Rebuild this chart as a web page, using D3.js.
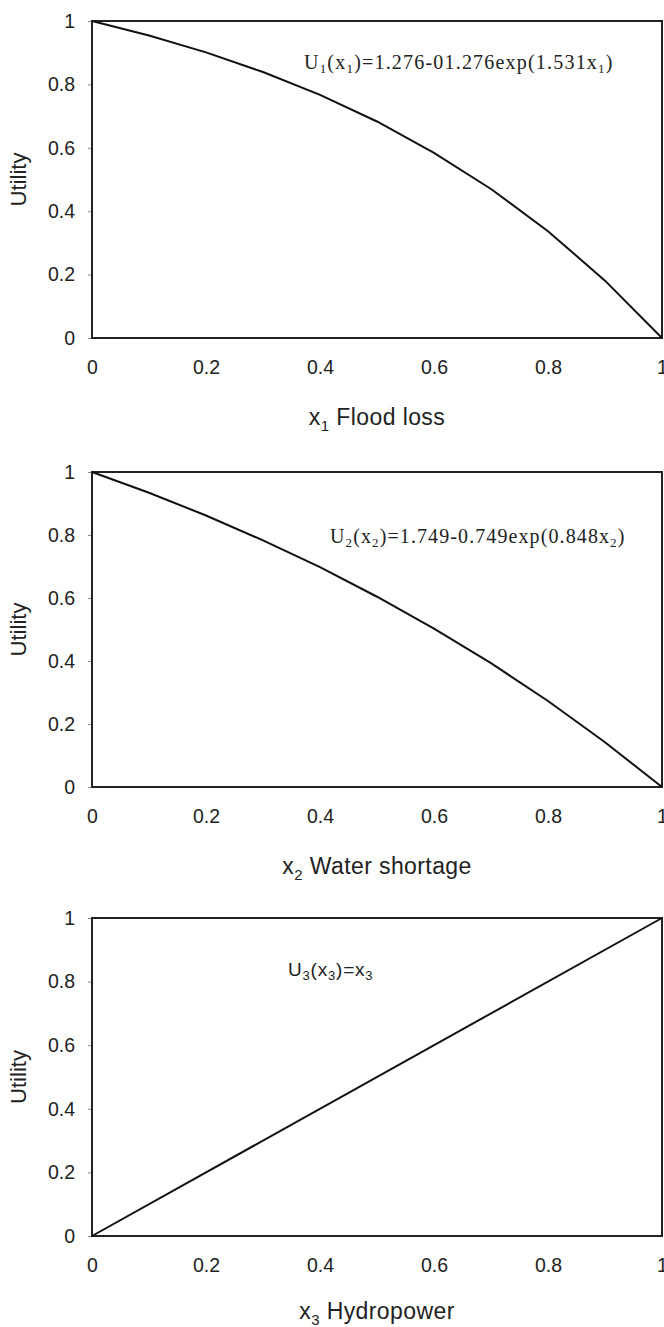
<!DOCTYPE html>
<html>
<head>
<meta charset="utf-8">
<script src="https://cdn.jsdelivr.net/npm/d3@7"></script>
<style>
  body { margin: 0; background: #fff; }
  svg { display: block; }
</style>
</head>
<body>
<svg id="chart"></svg>
<script>
// values
const xTicks = [0, 0.2, 0.4, 0.6, 0.8, 1];
const yTicks = [0, 0.2, 0.4, 0.6, 0.8, 1];

const floodX = [0, 0.1, 0.2, 0.3, 0.4, 0.5, 0.6, 0.7, 0.8, 0.9, 1];
const floodU = [1, 0.954, 0.901, 0.839, 0.767, 0.683, 0.584, 0.47, 0.337, 0.181, 0];

const waterX = [0, 0.1, 0.2, 0.3, 0.4, 0.5, 0.6, 0.7, 0.8, 0.9, 1];
const waterU = [1, 0.934, 0.862, 0.783, 0.698, 0.604, 0.503, 0.393, 0.273, 0.142, 0];

const hydroX = [0, 1];
const hydroU = [0, 1];

const width = 664, height = 1327;
const left = 92, right = 662;
const sans = "Liberation Sans, Arial, sans-serif";
const serif = "Liberation Serif, Times New Roman, serif";

const svg = d3.select("#chart")
	.attr("width", width)
	.attr("height", height);

const panels = [
	{top: 21, bottom: 338, titleGap: 87, xs: floodX, us: floodU, sub: "1", name: " Flood loss",
		eq: {x: 304, y: 69, serif: true, spacing: 1.2, parts: [["U"], ["1", "sub"], ["(x"], ["1", "sub"], [")=1.276-01.276exp(1.531x"], ["1", "sub"], [")"]]}},
	{top: 472, bottom: 787, titleGap: 87, xs: waterX, us: waterU, sub: "2", name: " Water shortage",
		eq: {x: 330, y: 543, serif: true, spacing: 1.1, parts: [["U"], ["2", "sub"], ["(x"], ["2", "sub"], [")=1.749-0.749exp(0.848x"], ["2", "sub"], [")"]]}},
	{top: 918, bottom: 1236, titleGap: 83, xs: hydroX, us: hydroU, sub: "3", name: " Hydropower",
		eq: {x: 288, y: 976, serif: false, spacing: 0.8, parts: [["U"], ["3", "sub"], ["(x"], ["3", "sub"], [")=x"], ["3", "sub"]]}}
];

panels.forEach(function(p) {
	const x = d3.scaleLinear().domain([0, 1]).range([left, right]);
	const y = d3.scaleLinear().domain([0, 1]).range([p.bottom, p.top]);
	const g = svg.append("g");

	// y axis
	const yAxis = g.append("g")
		.attr("transform", "translate(" + left + ",0)")
		.call(d3.axisLeft(y).tickValues(yTicks).tickSize(4).tickPadding(13)
			.tickFormat(d3.format("~g")));
	yAxis.select(".domain").remove();
	yAxis.selectAll("line").attr("stroke", "#888");
	yAxis.selectAll("text")
		.attr("font-family", sans)
		.attr("font-size", 19.5)
		.attr("fill", "#222");

	// x axis
	const xAxis = g.append("g")
		.attr("transform", "translate(0," + p.bottom + ")")
		.call(d3.axisBottom(x).tickValues(xTicks).tickSize(0).tickPadding(22)
			.tickFormat(d3.format("~g")));
	xAxis.select(".domain").remove();
	xAxis.selectAll("text")
		.attr("font-family", sans)
		.attr("font-size", 19.5)
		.attr("fill", "#222");

	// frame
	g.append("rect")
		.attr("x", left)
		.attr("y", p.top)
		.attr("width", right - left)
		.attr("height", p.bottom - p.top)
		.attr("fill", "none")
		.attr("stroke", "#222")
		.attr("stroke-width", 2);

	// curve
	const pts = p.xs.map(function(v, i) { return [v, p.us[i]]; });
	g.append("path")
		.datum(pts)
		.attr("fill", "none")
		.attr("stroke", "#111")
		.attr("stroke-width", 2)
		.attr("d", d3.line().x(function(d) { return x(d[0]); }).y(function(d) { return y(d[1]); }));

	// y label
	g.append("text")
		.attr("transform", "translate(26," + ((p.top + p.bottom) / 2) + ") rotate(-90)")
		.attr("text-anchor", "middle")
		.attr("font-family", sans)
		.attr("font-size", 22)
		.attr("fill", "#222")
		.text("Utility");

	// x title
	const t = g.append("text")
		.attr("x", (left + right) / 2)
		.attr("y", p.bottom + p.titleGap)
		.attr("text-anchor", "middle")
		.attr("font-family", sans)
		.attr("font-size", 23)
		.attr("letter-spacing", 0.4)
		.attr("fill", "#222");
	t.append("tspan").text("x");
	t.append("tspan").attr("font-size", 15).attr("dy", 6).text(p.sub);
	t.append("tspan").attr("dy", -6).text(p.name);

	// equation
	const e = g.append("text")
		.attr("x", p.eq.x)
		.attr("y", p.eq.y)
		.attr("font-family", p.eq.serif ? serif : sans)
		.attr("font-size", p.eq.serif ? 20 : 19)
		.attr("letter-spacing", p.eq.spacing)
		.attr("fill", "#222");
	let shifted = false;
	p.eq.parts.forEach(function(part) {
		const isSub = part[1] === "sub";
		const ts = e.append("tspan").text(part[0]);
		if (isSub) {
			ts.attr("font-size", 13).attr("dy", shifted ? 0 : 4);
			shifted = true;
		} else {
			if (shifted) ts.attr("dy", -4);
			shifted = false;
		}
	});
});
</script>
</body>
</html>
